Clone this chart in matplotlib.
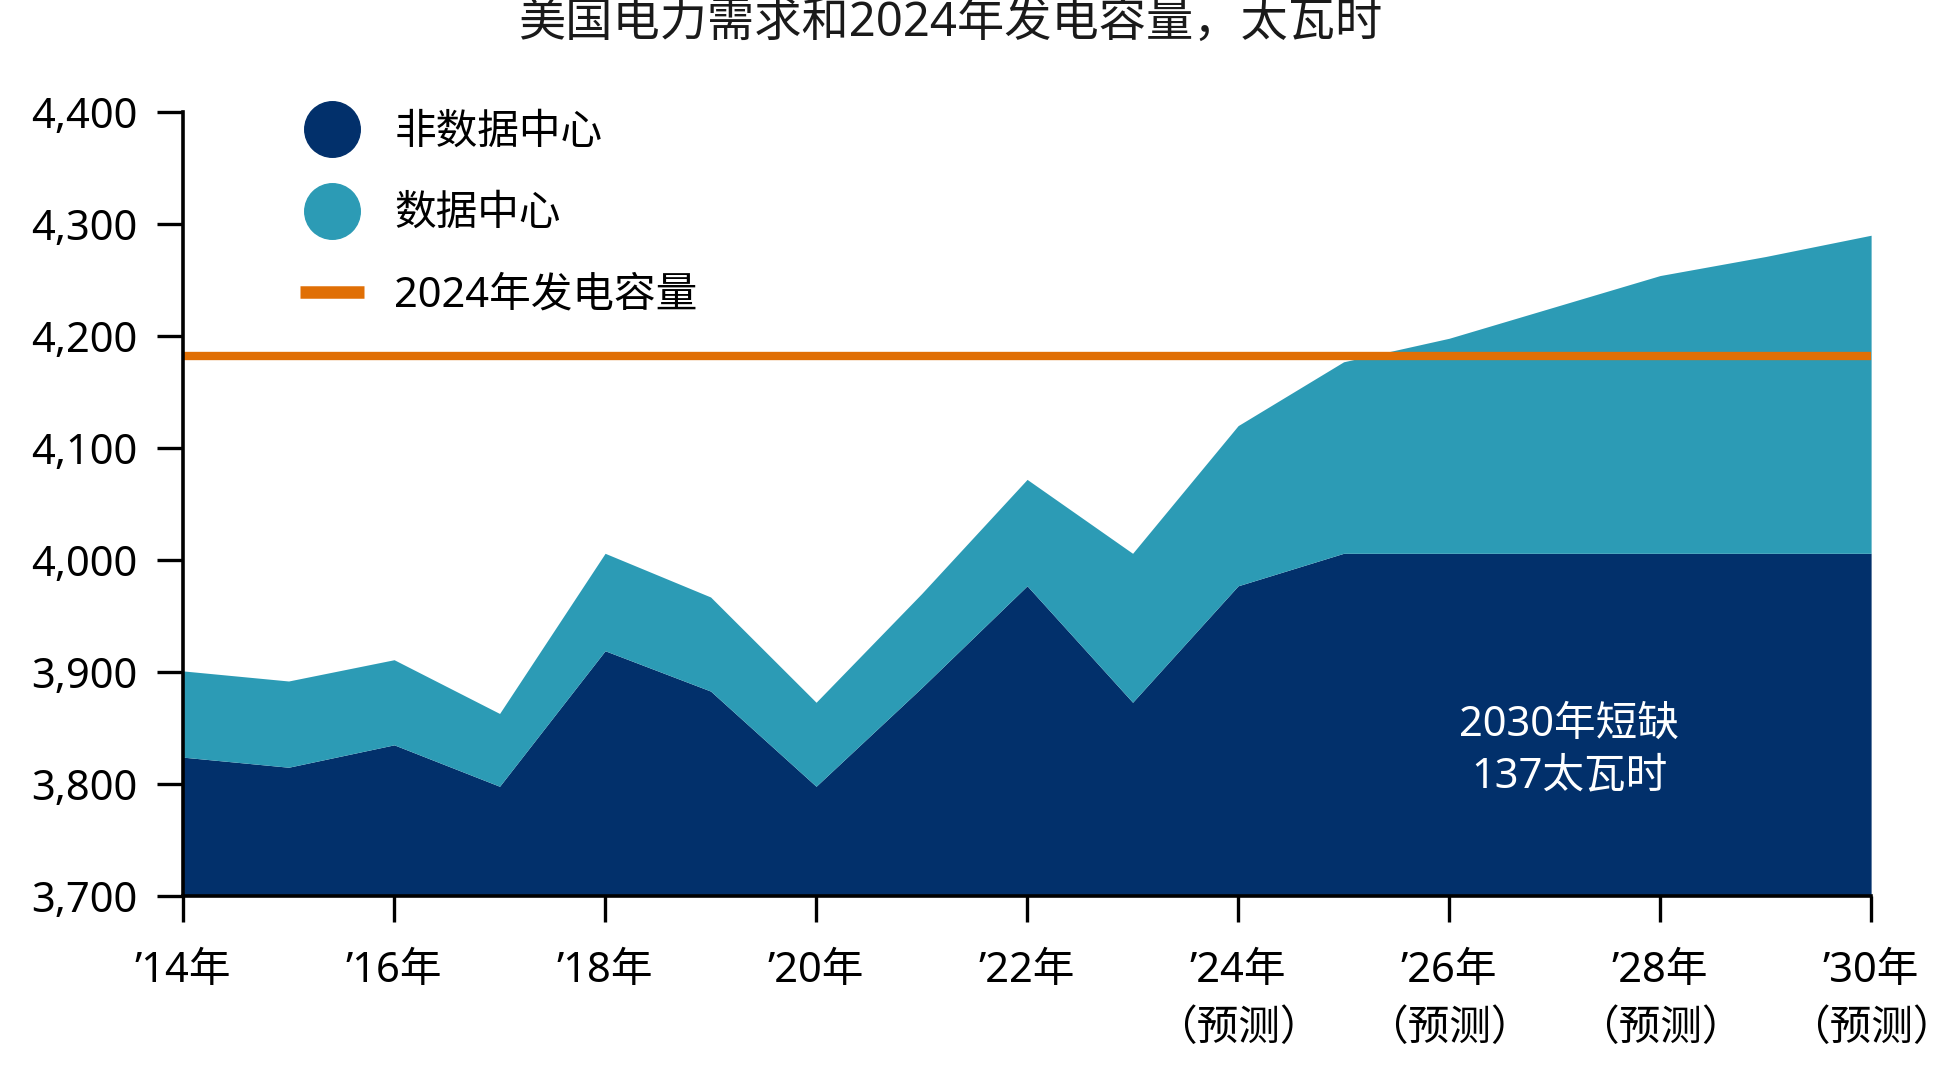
import numpy as np
import matplotlib
matplotlib.use("Agg")
import matplotlib.pyplot as plt
from matplotlib.lines import Line2D
from matplotlib.ticker import FuncFormatter

# Latin glyphs (digits, the ’ mark) from Noto Sans, Chinese from the CJK family
plt.rcParams['font.family'] = ['Noto Sans', 'Noto Sans CJK SC', 'DejaVu Sans']

# Data (TWh)
years = [2014, 2015, 2016, 2017, 2018, 2019, 2020, 2021, 2022,
         2023, 2024, 2025, 2026, 2027, 2028, 2029, 2030]
non_data_center = [3824, 3815, 3835, 3798, 3919, 3883, 3798, 3886, 3977,
                   3873, 3977, 4006, 4006, 4006, 4006, 4006, 4006]
total_demand = [3901, 3892, 3911, 3863, 4006, 3967, 3873, 3970, 4072,
                4006, 4120, 4177, 4198, 4226, 4254, 4271, 4290]
capacity_2024 = 4182

tick_years = [2014, 2016, 2018, 2020, 2022, 2024, 2026, 2028, 2030]
tick_labels = ["’14年", "’16年", "’18年", "’20年", "’22年",
               "’24年\n（预测）", "’26年\n（预测）", "’28年\n（预测）", "’30年\n（预测）"]
y_ticks = [3700, 3800, 3900, 4000, 4100, 4200, 4300, 4400]

title = "美国电力需求和2024年发电容量，太瓦时"
legend_labels = ["非数据中心", "数据中心", "2024年发电容量"]
note = "2030年短缺\n137太瓦时"

navy = "#02306b"
teal = "#2c9bb5"
orange = "#e06f05"
fs = 30

fig = plt.figure(figsize=(19.56, 10.69), dpi=100)
ax = fig.add_axes([0.0936, 0.1618, 0.863, 0.7334])

ax.fill_between(years, 3700, non_data_center, color=navy, linewidth=0)
ax.fill_between(years, non_data_center, total_demand, color=teal, linewidth=0)
ax.plot([years[0], years[-1]], [capacity_2024, capacity_2024], color=orange,
        linewidth=6, solid_capstyle='butt')

ax.set_xlim(2014, 2030)
ax.set_ylim(3700, 4400)
ax.set_xticks(tick_years)
ax.set_xticklabels(tick_labels, linespacing=1.5, va='top')
ax.set_yticks(y_ticks)
ax.yaxis.set_major_formatter(FuncFormatter(lambda v, p: f"{int(v):,}"))

for s in ['top', 'right']:
    ax.spines[s].set_visible(False)
for s in ['left', 'bottom']:
    ax.spines[s].set_linewidth(2.6)
    ax.spines[s].set_zorder(5)
ax.tick_params(axis='both', direction='out', length=19, width=2.4, labelsize=fs)
ax.tick_params(axis='y', pad=14)
ax.tick_params(axis='x', pad=20)

ax.text(2027.14, 3830, note, color='white', fontsize=fs, ha='center', va='center',
        linespacing=1.3)

fig.text(0.486, 0.977, title, fontsize=34, ha='center', va='center', color='#1a1a1a')

handles = [
    Line2D([], [], marker='o', linestyle='none', markersize=40, markerfacecolor=navy,
           markeredgecolor=navy),
    Line2D([], [], marker='o', linestyle='none', markersize=40, markerfacecolor=teal,
           markeredgecolor=teal),
    Line2D([], [], color=orange, linewidth=9, solid_capstyle='butt'),
]
leg = ax.legend(handles, legend_labels, loc='upper left', bbox_to_anchor=(0.069, 1.0),
                frameon=False, fontsize=fs, borderaxespad=0, borderpad=0,
                handlelength=1.55, handletextpad=0.72, labelspacing=0.94)

fig.savefig("out.png", dpi=100)
